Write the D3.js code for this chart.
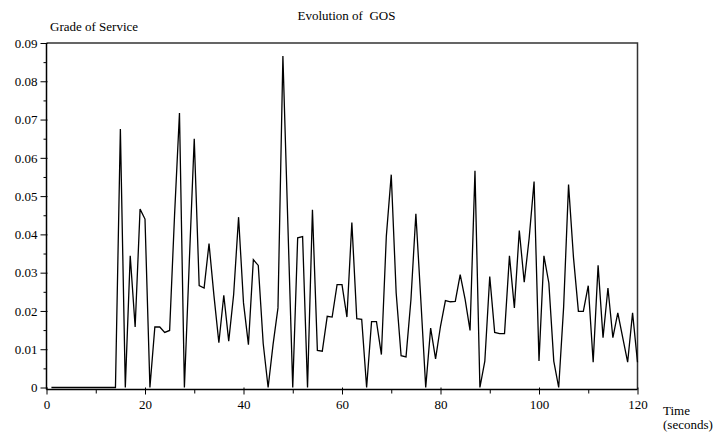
<!DOCTYPE html>
<html>
<head>
<meta charset="utf-8">
<script src="https://cdn.jsdelivr.net/npm/d3@7"></script>
<style>
  body { margin: 0; background: #fff; }
  svg text { font-family: "Liberation Serif", "Times New Roman", serif; fill: #000; }
</style>
</head>
<body>
<div id="chart"></div>
<script>
// Chart size, same as the window
const WIDTH = 714;
const HEIGHT = 434;
const PLOT = { left: 46.5, right: 637.5, top: 43, bottom: 387.5 };
const FONT_SIZE = 13;

const TITLE = "Evolution of  GOS";
const Y_TITLE = "Grade of Service";
const X_TITLE = ["Time", "(seconds)"];

// time (seconds)
const timeValues = [
  1, 2, 3, 4, 5, 6, 7, 8, 9, 10, 11, 12, 13, 14, 15, 16, 17, 18, 19, 20,
  21, 22, 23, 24, 25, 26, 27, 28, 29, 30, 31, 32, 33, 34, 35, 36, 37, 38, 39, 40,
  41, 42, 43, 44, 45, 46, 47, 48, 49, 50, 51, 52, 53, 54, 55, 56, 57, 58, 59, 60,
  61, 62, 63, 64, 65, 66, 67, 68, 69, 70, 71, 72, 73, 74, 75, 76, 77, 78, 79, 80,
  81, 82, 83, 84, 85, 86, 87, 88, 89, 90, 91, 92, 93, 94, 95, 96, 97, 98, 99, 100,
  101, 102, 103, 104, 105, 106, 107, 108, 109, 110, 111, 112, 113, 114, 115, 116, 117, 118, 119, 120
];

// grade of service, one value per second
const gosValues = [
  0, 0, 0, 0, 0, 0, 0, 0, 0, 0, 0, 0, 0, 0, 0.0675, 0, 0.0344, 0.0158, 0.0466, 0.044,
  0, 0.0158, 0.0158, 0.0144, 0.0149, 0.045, 0.0717, 0, 0.033, 0.065, 0.0266, 0.026, 0.0376, 0.024, 0.0117, 0.0241, 0.0121, 0.0243, 0.0445, 0.0221,
  0.0112, 0.0334, 0.0319, 0.0115, 0, 0.0112, 0.0208, 0.0866, 0.043, 0, 0.0391, 0.0394, 0, 0.0464, 0.0097, 0.0095, 0.0186, 0.0184, 0.0269, 0.0269,
  0.0184, 0.0431, 0.018, 0.0178, 0, 0.0172, 0.0172, 0.0086, 0.0395, 0.0556, 0.0247, 0.0083, 0.008, 0.023, 0.0454, 0.023, 0, 0.0155, 0.0075, 0.016,
  0.0227, 0.0224, 0.0225, 0.0295, 0.023, 0.0149, 0.0566, 0, 0.0069, 0.029, 0.0144, 0.0141, 0.0141, 0.0344, 0.0208, 0.041, 0.0275, 0.039, 0.0538, 0.0069,
  0.0344, 0.0273, 0.0069, 0, 0.021, 0.053, 0.034, 0.0199, 0.0199, 0.0266, 0.0066, 0.0319, 0.013, 0.026, 0.013, 0.0195, 0.013, 0.0066, 0.0195, 0.0066
];

const xMajorTicks = [0, 20, 40, 60, 80, 100, 120];
const xMinorTicks = [10, 30, 50, 70, 90, 110];
const yMajorTicks = [0, 0.01, 0.02, 0.03, 0.04, 0.05, 0.06, 0.07, 0.08, 0.09];
const yMinorTicks = [0.005, 0.015, 0.025, 0.035, 0.045, 0.055, 0.065, 0.075, 0.085];
const yTickLabels = ["0", "0.01", "0.02", "0.03", "0.04", "0.05", "0.06", "0.07", "0.08", "0.09"];

const svg = d3.select("#chart").append("svg")
  .attr("width", WIDTH)
  .attr("height", HEIGHT);

const xscale = d3.scaleLinear().domain([0, 120]).range([PLOT.left, PLOT.right]);
const yscale = d3.scaleLinear().domain([0, 0.09]).range([PLOT.bottom, PLOT.top]);
const axisY = PLOT.bottom + 2;

// frame: top and right edges
svg.append("path")
  .attr("d", `M${PLOT.left},${PLOT.top}H${PLOT.right}V${axisY}`)
  .attr("fill", "none")
  .attr("stroke", "#333")
  .attr("stroke-width", 1.5);

// y axis, majors with labels then the short minors
const yAxis = svg.append("g")
  .attr("class", "y-axis")
  .attr("transform", `translate(${PLOT.left},0)`)
  .call(d3.axisLeft(yscale).tickValues(yMajorTicks).tickSize(6).tickPadding(3)
    .tickFormat((d, i) => yTickLabels[i]));
yAxis.select(".domain").attr("d", `M0,${PLOT.top}V${axisY}`).attr("stroke-width", 1.5);
yAxis.selectAll(".tick line").attr("x2", -6).attr("x1", 1);
yAxis.selectAll("text").attr("font-size", FONT_SIZE).attr("font-family", "Liberation Serif");

svg.append("g")
  .attr("transform", `translate(${PLOT.left},0)`)
  .call(d3.axisLeft(yscale).tickValues(yMinorTicks).tickSize(3).tickFormat(""))
  .call((g) => g.select(".domain").remove());

// x axis
const xAxis = svg.append("g")
  .attr("class", "x-axis")
  .attr("transform", `translate(0,${axisY})`)
  .call(d3.axisBottom(xscale).tickValues(xMajorTicks).tickSize(5).tickPadding(5));
xAxis.select(".domain").attr("d", `M${PLOT.left},0H${PLOT.right}`).attr("stroke-width", 1.5);
xAxis.selectAll(".tick line").attr("y1", -2);
xAxis.selectAll("text").attr("font-size", FONT_SIZE).attr("font-family", "Liberation Serif");

svg.append("g")
  .attr("transform", `translate(0,${axisY})`)
  .call(d3.axisBottom(xscale).tickValues(xMinorTicks).tickSize(4).tickFormat(""))
  .call((g) => g.select(".domain").remove());

// the series
const line = d3.line()
  .x((d, i) => xscale(timeValues[i]))
  .y((d) => yscale(d));

svg.append("path")
  .datum(gosValues)
  .attr("fill", "none")
  .attr("stroke", "#000")
  .attr("stroke-width", 1.3)
  .attr("stroke-linejoin", "miter")
  .attr("d", line);

// titles
svg.append("text")
  .attr("x", 346.5)
  .attr("y", 20)
  .attr("text-anchor", "middle")
  .attr("font-size", FONT_SIZE)
  .style("white-space", "pre")
  .text(TITLE);

svg.append("text")
  .attr("x", 50)
  .attr("y", 31)
  .attr("font-size", FONT_SIZE)
  .text(Y_TITLE);

svg.append("text")
  .attr("x", 663)
  .attr("y", 415)
  .attr("font-size", FONT_SIZE)
  .text(X_TITLE[0]);

svg.append("text")
  .attr("x", 663)
  .attr("y", 429)
  .attr("font-size", FONT_SIZE)
  .text(X_TITLE[1]);
</script>
</body>
</html>
